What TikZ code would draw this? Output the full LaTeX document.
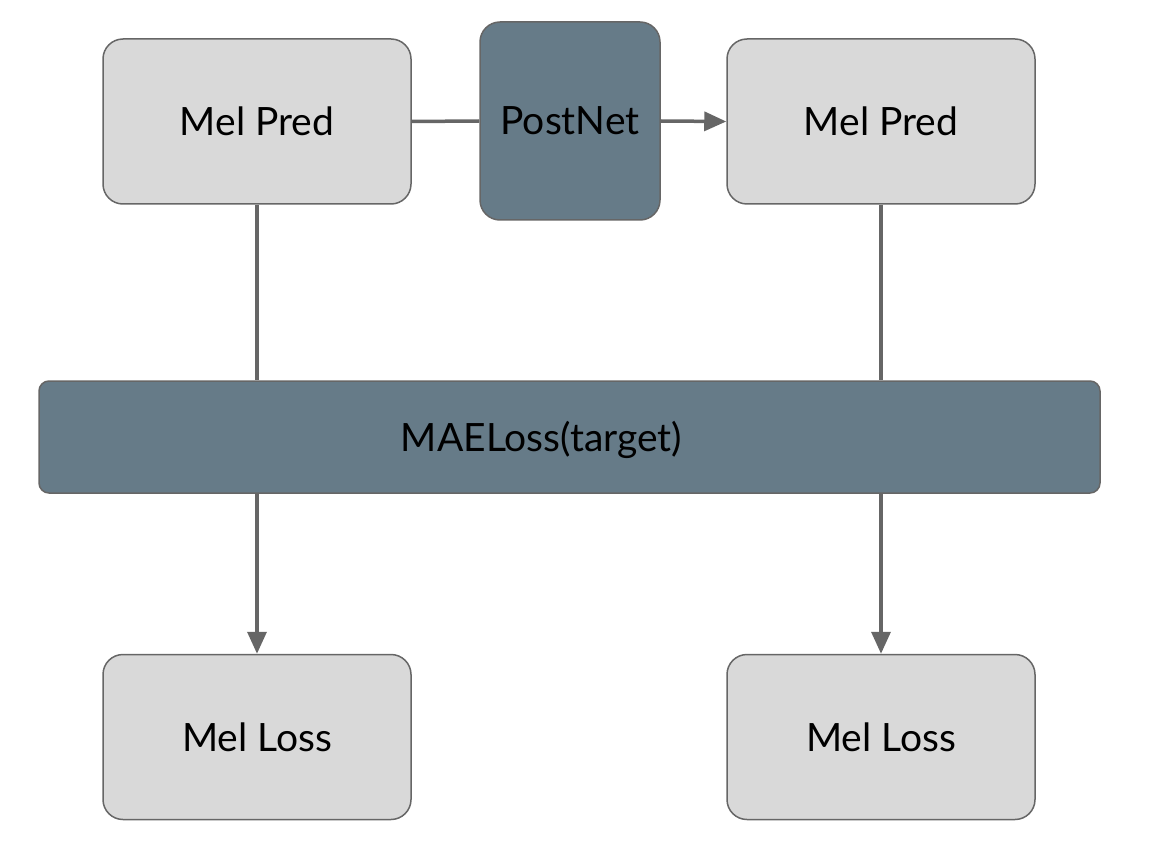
\documentclass[tikz,border=0pt]{standalone}
\usepackage{fontspec}
\setmainfont{Lato}
\usetikzlibrary{arrows.meta}
\definecolor{boxgray}{HTML}{D9D9D9}
\definecolor{slate}{HTML}{667B88}
\definecolor{edgegray}{HTML}{666666}

\begin{document}
\begin{tikzpicture}[x=1pt, y=-1pt,
  every node/.style={font=\fontsize{39}{44}\selectfont},
  lightbox/.style={draw=edgegray, line width=1.5pt, fill=boxgray, rounded corners=20pt, minimum width=308pt, minimum height=165pt},
  darkbox/.style={draw=edgegray, line width=1.5pt, fill=slate, rounded corners=20pt},
  link/.style={draw=edgegray, line width=3.5pt},
  flow/.style={link, -{Triangle[length=22pt,width=19pt]}}]
\useasboundingbox (0,0) rectangle (1164,842);
\node[lightbox] (predA) at (257,121.5) {Mel Pred};
\node[darkbox, minimum width=180pt, minimum height=198pt] (post) at (570,121) {PostNet};
\node[lightbox] (predB) at (881,121.5) {Mel Pred};
\node[darkbox, rounded corners=10pt, minimum width=1061pt, minimum height=112pt,
  label={[xshift=-28pt, yshift=-3pt, font=\fontsize{39}{44}\selectfont]center:MAELoss(target)}] (mae) at (569.5,437) {};
\node[lightbox] (lossA) at (257,737) {Mel Loss};
\node[lightbox] (lossB) at (881,737) {Mel Loss};
% connectors
\draw[link] (predA.east) -- (post.west);
\draw[flow] (post.east) -- (predB.west);
\draw[link] (predA.south) -- (predA.south |- mae.north);
\draw[link] (predB.south) -- (predB.south |- mae.north);
\draw[flow] (lossA.north |- mae.south) -- (lossA.north);
\draw[flow] (lossB.north |- mae.south) -- (lossB.north);
\end{tikzpicture}
\end{document}
